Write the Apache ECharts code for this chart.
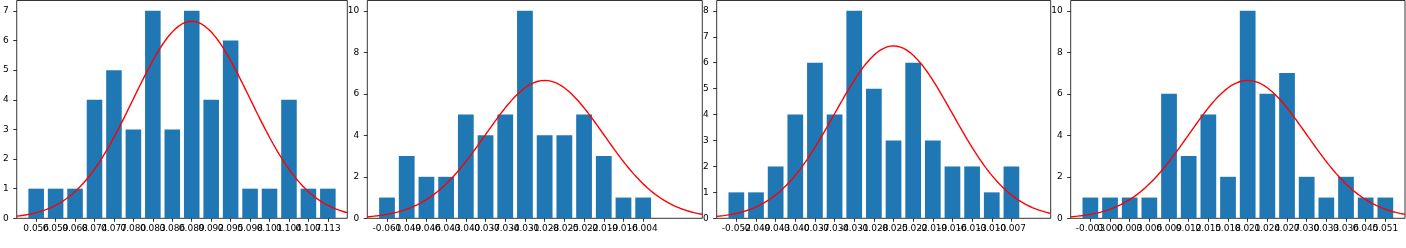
<!DOCTYPE html>
<html>
<head>
<meta charset="utf-8">
<script src="https://cdn.jsdelivr.net/npm/echarts@6/dist/echarts.min.js"></script>
<style>
html,body{margin:0;padding:0;background:#fff;}
#chart{width:1406px;height:248px;}
</style>
</head>
<body>
<div id="chart"></div>
<script>
// ---- data ----
const labels1 = ['0.056','0.059','0.068','0.074','0.077','0.080','0.083','0.086','0.089','0.092','0.095','0.098','0.101','0.104','0.107','0.113'];
const counts1 = [1,1,1,4,5,3,7,3,7,4,6,1,1,4,1,1];
const labels2 = ['-0.061','-0.049','-0.046','-0.043','-0.040','-0.037','-0.034','-0.031','-0.028','-0.025','-0.022','-0.019','-0.016','-0.004'];
const counts2 = [1,3,2,2,5,4,5,10,4,4,5,3,1,1];
const labels3 = ['-0.052','-0.049','-0.043','-0.040','-0.037','-0.034','-0.031','-0.028','-0.025','-0.022','-0.019','-0.016','-0.013','-0.010','-0.007'];
const counts3 = [1,1,2,4,6,4,8,5,3,6,3,2,2,1,2];
const labels4 = ['-0.003','0.000','0.003','0.006','0.009','0.012','0.015','0.018','0.021','0.024','0.027','0.030','0.033','0.036','0.045','0.051'];
const counts4 = [1,1,1,1,6,3,5,2,10,6,7,2,1,2,1,1];
const yTicks1 = [0,1,2,3,4,5,6,7];
const yTicks2 = [0,2,4,6,8,10];
const yTicks3 = [0,1,2,3,4,5,6,7,8];
const yTicks4 = [0,2,4,6,8,10];
// fitted normal curve parameters (in bar-index units)
const curveMean = 8;
const curveStd = 3;
const sampleCount = 50;
const curveRange = [-1, 16];

// ---- build ----
const panels = [
  {labels: labels1, counts: counts1, yTicks: yTicks1, left: 13,    width: 334.3},
  {labels: labels2, counts: counts2, yTicks: yTicks2, left: 367.3, width: 335},
  {labels: labels3, counts: counts3, yTicks: yTicks3, left: 716.7, width: 334},
  {labels: labels4, counts: counts4, yTicks: yTicks4, left: 1070.7,width: 334.3}
];
const curvePts = [];
const nPts = 200;
for (let i = 0; i <= nPts; i++) {
  const x = curveRange[0] + (curveRange[1] - curveRange[0]) * i / nPts;
  const z = (x - curveMean) / curveStd;
  curvePts.push([x, sampleCount * Math.exp(-0.5 * z * z) / (curveStd * Math.sqrt(2 * Math.PI))]);
}
const font = {fontFamily: 'DejaVu Sans', fontSize: 9, color: '#000'};
const grid = [], xAxis = [], yAxis = [], series = [];
function makeX(p, gi, vals) {
  return {type: 'value', gridIndex: gi, min: curveRange[0], max: curveRange[1], position: 'bottom',
    axisLine: {show: false, onZero: false}, splitLine: {show: false},
    axisTick: {show: true, customValues: vals, length: 3.5, lineStyle: {color: '#000', width: 0.8}},
    axisLabel: Object.assign({show: true, customValues: vals, margin: 6, showMinLabel: true, showMaxLabel: true,
      hideOverlap: false, formatter: v => p.labels[Math.round(v)] || ''}, font)};
}
panels.forEach((p, i) => {
  const ymax = Math.max(...p.counts) * 1.05;
  const idx = p.labels.map((_, k) => k);
  const even = idx.filter(k => k % 2 === 0);
  const odd = idx.filter(k => k % 2 === 1);
  grid.push({left: p.left, top: 0.5, width: p.width, bottom: 29.7, show: true,
    borderColor: '#000', borderWidth: 0.8, backgroundColor: 'transparent'});
  const xi = xAxis.length;
  xAxis.push(makeX(p, i, even));
  xAxis.push(makeX(p, i, odd));
  yAxis.push({type: 'value', gridIndex: i, min: 0, max: ymax, position: 'left',
    axisLine: {show: false, onZero: false}, splitLine: {show: false},
    axisTick: {show: true, customValues: p.yTicks, length: 3.5, lineStyle: {color: '#000', width: 0.8}},
    axisLabel: Object.assign({show: true, customValues: p.yTicks, margin: 8, showMinLabel: true,
      hideOverlap: false}, font)});
  series.push({type: 'bar', xAxisIndex: xi, yAxisIndex: i,
    data: p.counts.map((c, k) => [k, c]), barWidth: '80%',
    itemStyle: {color: '#1f77b4'}, animation: false});
  series.push({type: 'line', xAxisIndex: xi, yAxisIndex: i, data: curvePts,
    showSymbol: false, symbol: 'none', smooth: false, clip: true,
    lineStyle: {color: '#ff0000', width: 1.4}, z: 3, animation: false});
});
const chart = echarts.init(document.getElementById('chart'), null, {renderer: 'canvas'});
chart.setOption({animation: false, backgroundColor: '#fff', grid, xAxis, yAxis, series});
</script>
</body>
</html>
